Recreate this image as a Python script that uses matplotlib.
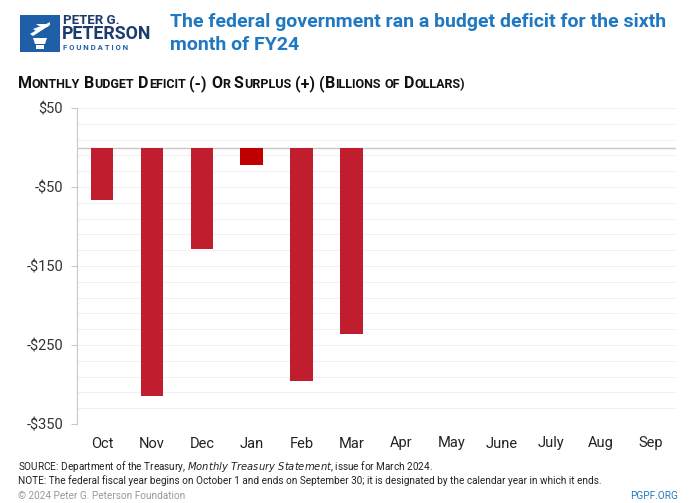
import matplotlib as mpl
mpl.use('Agg')
import matplotlib.pyplot as plt
from matplotlib.patches import Rectangle, Polygon
import numpy as np

# --- data (billions of dollars)
months = ['Oct', 'Nov', 'Dec', 'Jan', 'Feb', 'Mar', 'Apr', 'May', 'June', 'July', 'Aug', 'Sep']
values = [-67, -314, -129, -22, -296, -236]
bar_colors = ['#C01E2E', '#C01E2E', '#C01E2E', '#C00000', '#C01E2E', '#C01E2E']
yticks = [50, -50, -150, -250, -350]
ytick_labels = ['$50', '-$50', '-$150', '-$250', '-$350']

FONT = ['Liberation Sans Narrow', 'Roboto', 'DejaVu Sans']
plt.rcParams['font.family'] = FONT

fig = plt.figure(figsize=(6.96, 5.03), dpi=100)
ax = fig.add_axes([77/696, 1 - 424/503, (676 - 77)/696, (424 - 108)/503])

x = np.arange(len(months))
ax.bar(x[:len(values)], values, width=0.45, color=bar_colors, zorder=3)

ax.set_xlim(-0.5, len(months) - 0.5)
ax.set_ylim(-350, 50)

# faint grid every 20
for g in np.arange(-350, 51, 20):
    ax.axhline(g, color='#F1F1F1', lw=0.8, zorder=1)
ax.axhline(0, color='#C8C8C8', lw=1.0, zorder=2)

ax.set_yticks(yticks)
ax.set_yticklabels(ytick_labels, fontsize=10.5, color='#333333')
ax.set_xticks(x)
ax.set_xticklabels(months, fontsize=10.5, color='#222222')
ax.tick_params(axis='x', length=0, pad=9)
ax.tick_params(axis='y', length=4, color='#C8C8C8', pad=6)

for s in ['top', 'right', 'bottom']:
    ax.spines[s].set_visible(False)
ax.spines['left'].set_color('#C8C8C8')

# --- logo
fig.patches.append(Rectangle((20/696, 1 - 52/503), 40/696, 37/503, transform=fig.transFigure,
                             facecolor='#1F5FA8', edgecolor='none'))
torch = [(33, 38), (47, 38), (45, 44), (35, 44)]
fig.patches.append(Polygon([(px/696, 1 - py/503) for px, py in torch], closed=True,
                           transform=fig.transFigure, facecolor='white', edgecolor='none'))
fig.patches.append(Rectangle((36/696, 1 - 49/503), 8/696, 4/503, transform=fig.transFigure,
                             facecolor='white', edgecolor='none'))
for k in range(3):
    flame = [(30 + 3*k, 34 - 5*k), (50 - k, 22 + k), (50 - k, 25 + k), (33 + 3*k, 36 - 5*k)]
    fig.patches.append(Polygon([(px/696, 1 - py/503) for px, py in flame], closed=True,
                               transform=fig.transFigure, facecolor='white', edgecolor='none'))

navy = '#1D3C6E'
fig.text(63/696, 1 - 20/503, 'PETER G.', fontsize=9.5, fontweight='bold', color=navy, va='center')
fig.text(62/696, 1 - 34/503, 'PETERSON', fontsize=12.8, fontweight='bold', color=navy, va='center')
fig.text(63/696, 1 - 48/503, 'F O U N D A T I O N', fontsize=5.6, fontweight='bold', color='#1F5FA8', va='center')

# --- title
title_color = '#1F78C1'
fig.text(170/696, 1 - 22/503, 'The federal government ran a budget deficit for the sixth',
         fontsize=14, fontweight='bold', color=title_color, va='center')
fig.text(170/696, 1 - 45/503, 'month of FY24',
         fontsize=14, fontweight='bold', color=title_color, va='center')

# --- small-caps subtitle
fig.canvas.draw()
renderer = fig.canvas.get_renderer()
words = ['Monthly', 'Budget', 'Deficit', '(-)', 'Or', 'Surplus', '(+)', '(Billions', 'of', 'Dollars)']
BIG, SMALL = 11.5, 9.0
xpos = 18
ybase = 1 - 88/503
for w in words:
    if w[0] == '(' and len(w) > 1 and w[1].isalpha():
        parts = [('(', BIG), (w[1], BIG), (w[2:].upper(), SMALL)]
    elif w[0].islower():
        parts = [(w.upper(), SMALL)]
    elif w[0].isalpha():
        parts = [(w[0].upper(), BIG), (w[1:].upper(), SMALL)]
    else:
        parts = [(w, BIG)]
    for txt, fs in parts:
        if not txt:
            continue
        t = fig.text(xpos/696, ybase, txt, fontsize=fs, fontweight='bold', color='#111111', va='baseline')
        bb = t.get_window_extent(renderer)
        xpos += bb.width
    xpos += 4

# --- footer
fs_foot = 7.2
fig.text(18/696, 1 - 467/503, 'SOURCE: Department of the Treasury, $\\it{Monthly\\ Treasury\\ Statement}$, issue for March 2024.',
         fontsize=fs_foot, color='#222222', va='center')
fig.text(18/696, 1 - 481/503, 'NOTE: The federal fiscal year begins on October 1 and ends on September 30; it is designated by the calendar year in which it ends.',
         fontsize=fs_foot, color='#222222', va='center')
fig.text(18/696, 1 - 496/503, '\u00a9 2024 Peter G. Peterson Foundation',
         fontsize=fs_foot, color='#999999', va='center')
fig.text(678/696, 1 - 496/503, 'PGPF.ORG', fontsize=fs_foot, color='#1F78C1', va='center', ha='right')

fig.savefig('out.png', dpi=100)
